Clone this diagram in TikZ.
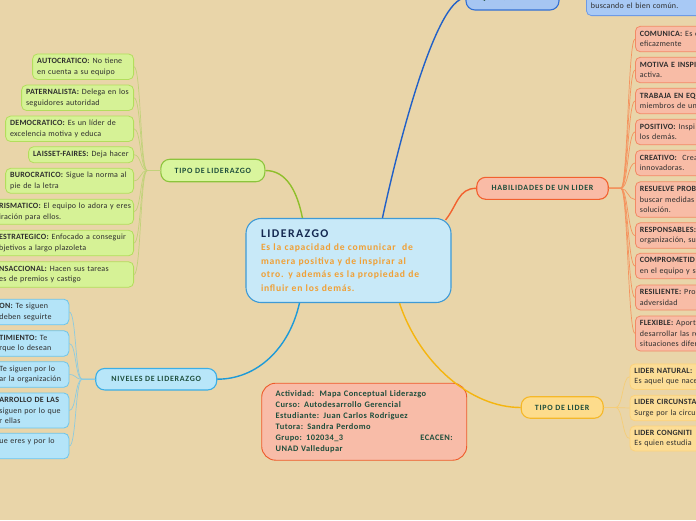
\documentclass[tikz,border=0pt]{standalone}
\usepackage{fontspec}
\setmainfont{Carlito}[LetterSpace=3]
\newfontfamily\cfont{Carlito}[LetterSpace=8]
\newfontfamily\tfont{Carlito}[LetterSpace=12]
\newfontfamily\brfont{Carlito}[LetterSpace=9]
\newfontfamily\infont{Carlito}[LetterSpace=5]
\usetikzlibrary{calc}
\definecolor{bg}{HTML}{E9D5A9}
\definecolor{gfill}{HTML}{D6F296}
\definecolor{gdraw}{HTML}{B2DE5C}
\definecolor{gbfill}{HTML}{D9F59D}
\definecolor{gbdraw}{HTML}{8CC43C}
\definecolor{gline}{HTML}{8FBF2B}
\definecolor{glline}{HTML}{C2D27A}
\definecolor{bfill}{HTML}{B4E4F8}
\definecolor{bdraw}{HTML}{6CC5EC}
\definecolor{bbfill}{HTML}{B8E6F9}
\definecolor{bbdraw}{HTML}{3BAEE6}
\definecolor{bline}{HTML}{1D9AD8}
\definecolor{blline}{HTML}{8CCBE0}
\definecolor{cfill}{HTML}{C8E9F8}
\definecolor{cdraw}{HTML}{3E9AD6}
\definecolor{sfill}{HTML}{F8BCA6}
\definecolor{sdraw}{HTML}{F28A66}
\definecolor{sbfill}{HTML}{F9BBA6}
\definecolor{sbdraw}{HTML}{F2602F}
\definecolor{sline}{HTML}{F2622F}
\definecolor{slline}{HTML}{F5935E}
\definecolor{yfill}{HTML}{FCDD96}
\definecolor{ydraw}{HTML}{FCD27A}
\definecolor{ybfill}{HTML}{FDDC8C}
\definecolor{ybdraw}{HTML}{F5B829}
\definecolor{yline}{HTML}{F5B50F}
\definecolor{ylline}{HTML}{F5CD78}
\definecolor{qfill}{HTML}{A6C6F2}
\definecolor{qdraw}{HTML}{3370D3}
\definecolor{qline}{HTML}{2160C8}
\definecolor{qlfill}{HTML}{A8C9F5}
\definecolor{qldraw}{HTML}{6D9AE6}
\definecolor{ifill}{HTML}{F8BCA8}
\definecolor{idraw}{HTML}{EE5A2A}
\definecolor{ttl}{HTML}{1E4E3C}
\definecolor{navy}{HTML}{142850}
\definecolor{orng}{HTML}{F0A035}
\definecolor{leaftxt}{HTML}{2E2E2E}
\tikzset{
  leaf/.style={rectangle, rounded corners=5pt, inner xsep=4.5pt, inner ysep=1pt, align=left, line width=0.8pt, text=leaftxt, font=\fontsize{8}{10.5}\selectfont},
  gleaf/.style={leaf, fill=gfill, draw=gdraw, anchor=east},
  bleaf/.style={leaf, fill=bfill, draw=bdraw, anchor=east},
  sleaf/.style={leaf, fill=sfill, draw=sdraw, anchor=west, text width=80pt},
  yleaf/.style={leaf, fill=yfill, draw=ydraw, anchor=west, text width=80pt},
  branch/.style={rectangle, rounded corners=9pt, line width=1.1pt, text=ttl, font=\brfont\fontsize{8}{10}\selectfont\bfseries, inner sep=0pt},
  gl/.style={glline, line width=0.7pt},
  bl/.style={blline, line width=0.7pt},
  sl/.style={slline, line width=0.7pt},
  yl/.style={ylline, line width=0.7pt},
}
\begin{document}
\begin{tikzpicture}[x=1pt,y=-1pt]
\useasboundingbox (0,0) rectangle (696,520);
\fill[bg] (0,0) rectangle (696,520);

% central node
\node[rectangle, rounded corners=15pt, fill=cfill, draw=cdraw, line width=1.1pt,
  minimum width=205pt, minimum height=84pt, inner xsep=15pt, text width=175pt,
  align=left, text=orng, font=\cfont\fontsize{9.6}{13.5}\selectfont\bfseries] (c) at (348.5,260.5)
  {\mbox{\tfont\fontsize{11.8}{13}\selectfont\bfseries\color{navy}LIDERAZGO}\\\mbox{Es la capacidad de comunicar\ \ de}\\\mbox{manera positiva y de inspirar al}\\\mbox{otro. y además es la propiedad de}\\\mbox{influir en los demás.}};

% branch nodes
\node[branch, fill=gbfill, draw=gbdraw, minimum width=104pt, minimum height=22.5pt] (tipo) at (212.8,170.5) {TIPO DE LIDERAZGO};
\node[branch, fill=bbfill, draw=bbdraw, minimum width=121pt, minimum height=21.5pt] (niv) at (156.2,379.2) {NIVELES DE LIDERAZGO};
\node[branch, fill=sbfill, draw=sbdraw, minimum width=131.5pt, minimum height=22pt] (hab) at (542.5,188.3) {HABILIDADES DE UN LIDER};
\node[branch, fill=ybfill, draw=ybdraw, minimum width=82pt, minimum height=21.5pt] (tl) at (562.2,407.5) {TIPO DE LIDER};
\node[branch, fill=qfill, draw=qdraw, minimum width=93pt, minimum height=24pt] (que) at (512.5,-2) {QUE ES UN LIDER};
\node[leaf, fill=qlfill, draw=qldraw, anchor=south west, text width=120pt, minimum height=30pt, text=leaftxt] (qdef) at (586,16)
  {\mbox{o seguidores hacia un propósito}\\\mbox{buscando el bien común.}};

% info box
\node[rectangle, rounded corners=14pt, fill=ifill, draw=idraw, line width=0.9pt,
  minimum width=205pt, minimum height=77pt, inner xsep=14pt, text width=177pt,
  align=left, text=ttl, font=\infont\fontsize{8.4}{11}\selectfont\bfseries] (info) at (364.2,421.7)
  {\mbox{Actividad:\ \ Mapa Conceptual Liderazgo}\\Curso: Autodesarrollo Gerencial\\Estudiante: Juan Carlos Rodriguez\\Tutora: Sandra Perdomo\\Grupo: 102034\_3\hfill ECACEN:\hspace*{3pt}\\UNAD Valledupar};

% green leaves
\node[gleaf, text width=92pt, minimum height=25.5pt] (g1) at (134,66.7) {\mbox{\textbf{AUTOCRATICO:} No tiene}\\\mbox{en cuenta a su equipo}};
\node[gleaf, text width=103pt, minimum height=25.5pt] (g2) at (134,97.8) {\mbox{\textbf{PATERNALISTA:} Delega en los}\\\mbox{seguidores autoridad}};
\node[gleaf, text width=119pt, minimum height=25.5pt] (g3) at (134,128.8) {\mbox{\textbf{DEMOCRATICO:} Es un líder de}\\\mbox{excelencia motiva y educa}};
\node[gleaf, text width=96pt, minimum height=16pt] (g4) at (134,154.7) {\mbox{\textbf{LAISSET-FAIRES:} Deja hacer}};
\node[gleaf, text width=119pt, minimum height=25pt] (g5) at (134,180.8) {\mbox{\textbf{BUROCRATICO:} Sigue la norma al}\\\mbox{pie de la letra}};
\node[gleaf, text width=130pt, minimum height=25pt] (g6) at (134,211.8) {\mbox{\textbf{RISMATICO:} El equipo lo adora y eres}\\\mbox{iración para ellos.}};
\node[gleaf, text width=130pt, minimum height=25.5pt] (g7) at (134,243) {\mbox{\textbf{ESTRATEGICO:} Enfocado a conseguir}\\\mbox{bjetivos a largo plazoleta}};
\node[gleaf, text width=130pt, minimum height=25.5pt] (g8) at (134,274.5) {\mbox{\textbf{NSACCIONAL:} Hacen sus tareas}\\\mbox{es de premios y castigo}};

% blue leaves
\node[bleaf, text width=65pt, minimum height=25.5pt] (b1) at (69.3,312) {\mbox{\textbf{ON:} Te siguen}\\\mbox{deben seguirte}};
\node[bleaf, text width=65pt, minimum height=25.5pt] (b2) at (69.3,343.5) {\mbox{\textbf{TIMIENTO:} Te}\\\mbox{rque lo desean}};
\node[bleaf, text width=65pt, minimum height=25.5pt] (b3) at (69.3,374.5) {\mbox{Te siguen por lo}\\\mbox{ar la organización}};
\node[bleaf, text width=65pt, minimum height=35pt] (b4) at (69.3,410.5) {\mbox{\textbf{ARROLLO DE LAS}}\\\mbox{siguen por lo que}\\\mbox{r ellas}};
\node[bleaf, text width=65pt, minimum height=25.5pt] (b5) at (69.3,446) {\mbox{ue eres y por lo}\\\mbox{}};

% salmon leaves
\node[sleaf, minimum height=25.5pt] (s1) at (635,39) {\mbox{\textbf{COMUNICA:} Es c}\\eficazmente};
\node[sleaf, minimum height=25.5pt] (s2) at (635,70) {\mbox{\textbf{MOTIVA E INSPI}}\\activa.};
\node[sleaf, minimum height=25.5pt] (s3) at (635,101) {\mbox{\textbf{TRABAJA EN EQ}}\\\mbox{miembros de un}};
\node[sleaf, minimum height=25.5pt] (s4) at (635,132) {\mbox{\textbf{POSITIVO:} Inspi}\\los demás.};
\node[sleaf, minimum height=25.5pt] (s5) at (635,163) {\mbox{\textbf{CREATIVO:}\ \ Crea}\\innovadoras.};
\node[sleaf, minimum height=35.5pt] (s6) at (635,199.5) {\mbox{\textbf{RESUELVE PROB}}\\\mbox{buscar medidas l}\\solución.};
\node[sleaf, minimum height=25.5pt] (s7) at (635,235.5) {\mbox{\textbf{RESPONSABLES:}}\\\mbox{organización, sus}};
\node[sleaf, minimum height=25.5pt] (s8) at (635,266) {\mbox{\textbf{COMPROMETID}}\\\mbox{en el equipo y se}};
\node[sleaf, minimum height=25pt] (s9) at (635,297.5) {\mbox{\textbf{RESILIENTE:} Pro}\\adversidad};
\node[sleaf, minimum height=35pt] (s10) at (635,333.5) {\mbox{\textbf{FLEXIBLE:} Aport}\\\mbox{desarrollar las re}\\\mbox{situaciones difere}};

% yellow leaves
\node[yleaf, minimum height=25.5pt] (y1) at (629.5,376.7) {\mbox{\textbf{LIDER NATURAL:}}\\\mbox{Es aquel que nace}};
\node[yleaf, minimum height=25.5pt] (y2) at (629.5,408) {\mbox{\textbf{LIDER CIRCUNSTA}}\\\mbox{Surge por la circun}};
\node[yleaf, minimum height=25pt] (y3) at (629.5,438.5) {\mbox{\textbf{LIDER CONGNITI}}\\\mbox{Es quien estudia}};

% main connectors
\draw[gline, line width=1.4pt] ([xshift=57pt]c.north west) .. controls +(-5,-25) and +(22,0) .. (tipo.east);
\draw[qline, line width=1.4pt] ([xshift=137pt]c.north west) .. controls +(15,-70) and +(-30,0) .. (que.west);
\draw[sline, line width=1.4pt] ([xshift=-6pt,yshift=-2pt]c.north east) .. controls +(12,-15) and +(-18,0) .. (hab.west);
\draw[bline, line width=1.4pt] ([xshift=54pt]c.south west) .. controls +(-10,45) and +(40,0) .. (niv.east);
\draw[yline, line width=1.4pt] ([xshift=154pt]c.south west) .. controls +(20,60) and +(-50,0) .. (tl.west);

% leaf connectors
\foreach \n in {g1,g2,g3,g4,g5,g6,g7,g8}
  \draw[gl] (tipo.west) -- ++(-13,0) .. controls +(-7,0) and +(7,0) .. (\n.east);
\foreach \n in {b1,b2,b3,b4,b5}
  \draw[bl] (niv.west) -- ++(-13,0) .. controls +(-7,0) and +(7,0) .. (\n.east);
\foreach \n in {s1,s2,s3,s4,s5,s6,s7,s8,s9,s10}
  \draw[sl] (hab.east) -- ++(12,0) .. controls +(7,0) and +(-7,0) .. (\n.west);
\foreach \n in {y1,y2,y3}
  \draw[yl] (tl.east) -- ++(12,0) .. controls +(7,0) and +(-7,0) .. (\n.west);
\end{tikzpicture}
\end{document}
